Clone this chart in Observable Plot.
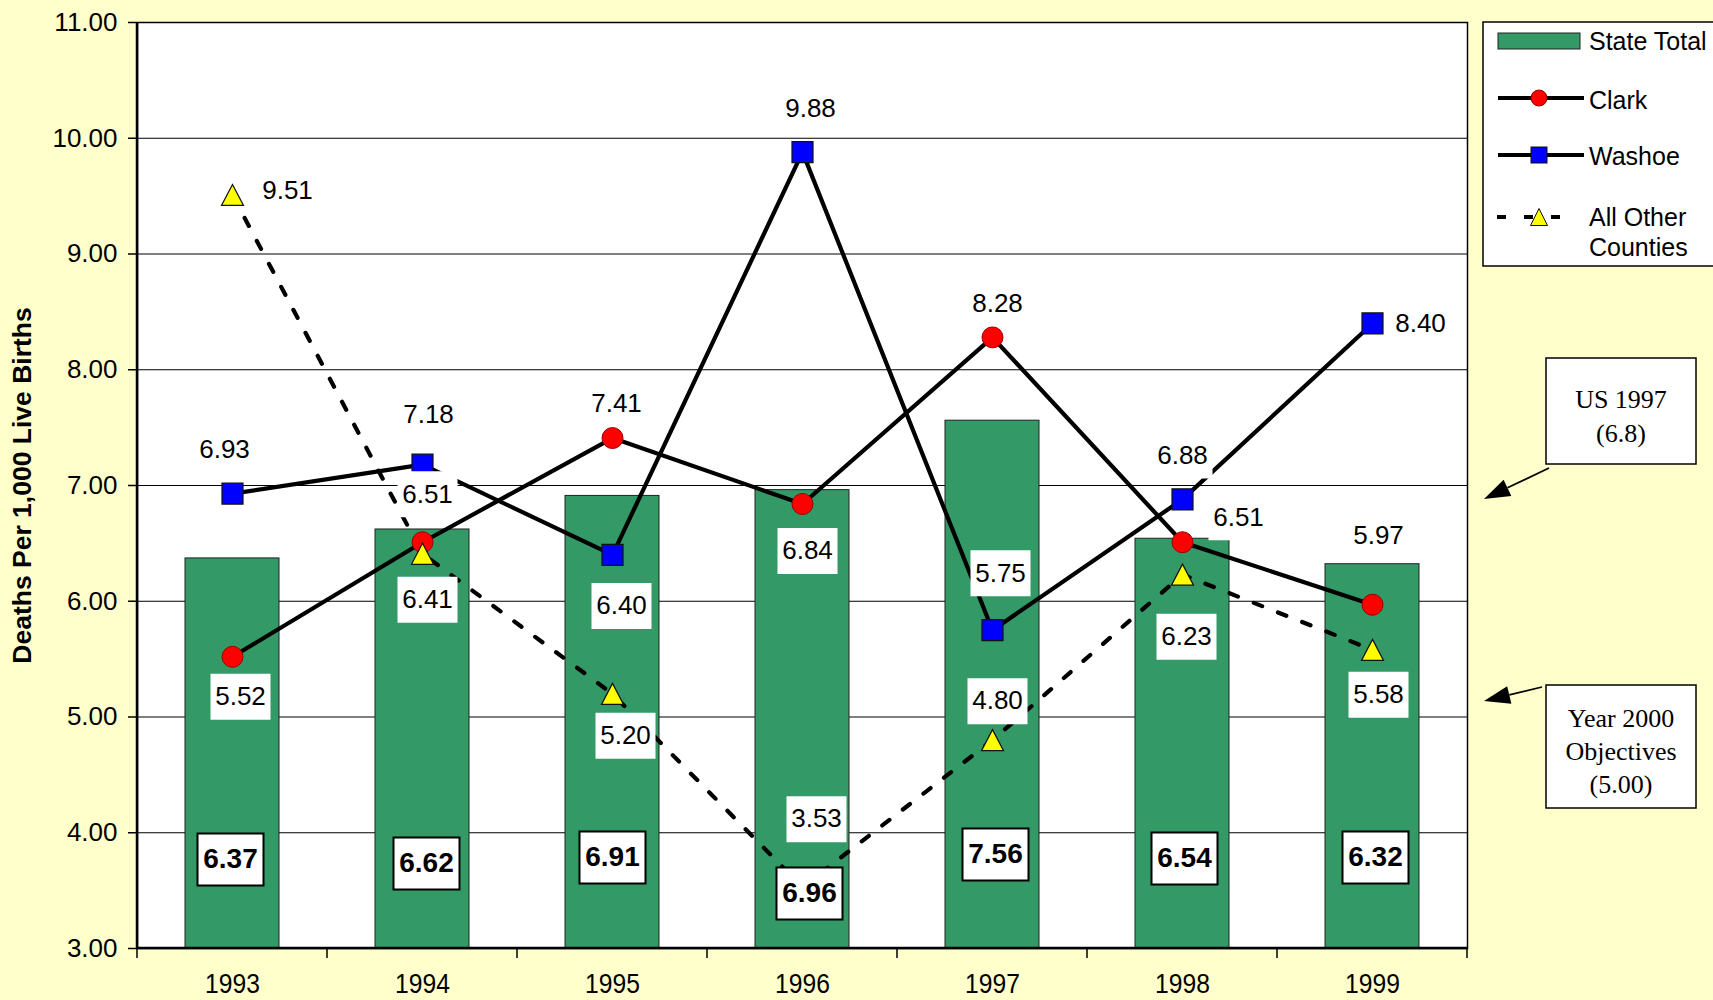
<!DOCTYPE html>
<html><head><meta charset="utf-8">
<script src="https://cdn.jsdelivr.net/npm/d3@7"></script>
<script src="https://cdn.jsdelivr.net/npm/@observablehq/plot@0.6"></script>
<style>
html,body{margin:0;padding:0;background:#ffffcc;overflow:hidden}
svg{display:block}
</style>
</head><body><div id="chart"></div>
<script>
// ---- data ----
const years = ["1993", "1994", "1995", "1996", "1997", "1998", "1999"];
const stateTotal = [6.37, 6.62, 6.91, 6.96, 7.56, 6.54, 6.32];
const clark = [5.52, 6.51, 7.41, 6.84, 8.28, 6.51, 5.97];
const washoe = [6.93, 7.18, 6.40, 9.88, 5.75, 6.88, 8.40];
const allOther = [9.51, 6.41, 5.20, 3.53, 4.80, 6.23, 5.58];
const yTicks = [3, 4, 5, 6, 7, 8, 9, 10, 11];
const seriesNames = ["State Total", "Clark", "Washoe", "All Other Counties"];
const yLabel = "Deaths Per 1,000 Live Births";
const usNote = ["US 1997", "(6.8)"];
const objNote = ["Year 2000", "Objectives", "(5.00)"];

// ---- label placement (pixel offsets from the point) ----
const washoeLabelDx = [-8, 6, 9, 8, 8, 0, 48];
const washoeLabelDy = [-44, -50, 51, -43, -57, -44, 0];
const clarkLabelDx = [8, 5, 4, 5, 5, 56, 6];
const clarkLabelDy = [40, -48, -34, 47, -34, -25, -69];
const otherLabelDx = [55, 5, 13, 14, 5, 4, 6];
const otherLabelDy = [-4, 46, 42, -68, -39, 62, 45];
const stateLabelDx = [-2, 4, 0, 7, 3, 2, 3];
const stateLabelDy = [-89, -85, -91, -55, -94, -90, -91];

const FONT = "Liberation Sans, Arial, sans-serif";
const SERIF = "Liberation Serif, Times New Roman, serif";
const GREEN = "#339966";

const rectSym = (w, h) => ({draw(ctx) { ctx.rect(-w / 2, -h / 2, w, h); }});
const triSym = (w, h) => ({draw(ctx) { ctx.moveTo(0, -h / 2); ctx.lineTo(w / 2, h / 2); ctx.lineTo(-w / 2, h / 2); ctx.closePath(); }});
const squareSym = rectSym(21, 21);
const triangleSym = triSym(22, 21);

const idx = years.map((_, i) => i);

function labelMarks(values, dxs, dys) {
  return idx.flatMap(i => [
    Plot.dot([i], {x: j => years[j], y: j => values[j], dx: dxs[i], dy: dys[i], symbol: rectSym(60, 46), fill: "white", stroke: "none", r: 5}),
    Plot.text([i], {x: j => years[j], y: j => values[j], text: j => values[j].toFixed(2), dx: dxs[i], dy: dys[i], fontSize: 26, fontFamily: FONT, fill: "black", lineAnchor: "middle"})
  ]);
}
function stateLabelMarks() {
  return idx.flatMap(i => [
    Plot.dot([i], {x: j => years[j], y: 3, dx: stateLabelDx[i], dy: stateLabelDy[i], symbol: rectSym(66, 52), fill: "white", stroke: "black", strokeWidth: 2, r: 5}),
    Plot.text([i], {x: j => years[j], y: 3, text: j => stateTotal[j].toFixed(2), dx: stateLabelDx[i], dy: stateLabelDy[i], fontSize: 28, fontWeight: "bold", fontFamily: FONT, fill: "black", lineAnchor: "middle"})
  ]);
}

// boundary ticks on the x axis (between categories) and heavier axis lines
function xBoundaryTicks(index, scales, values, dims) {
  const g = d3.create("svg:g");
  const left = dims.marginLeft, right = dims.width - dims.marginRight;
  const bottom = dims.height - dims.marginBottom;
  const step = (right - left) / years.length;
  for (let i = 0; i <= years.length; i++) {
    g.append("line").attr("x1", left + i * step).attr("x2", left + i * step)
      .attr("y1", bottom).attr("y2", bottom + 10).attr("stroke", "black").attr("stroke-width", 1.5);
  }
  g.append("line").attr("x1", left).attr("x2", right).attr("y1", bottom).attr("y2", bottom).attr("stroke", "black").attr("stroke-width", 2.5);
  g.append("line").attr("x1", left).attr("x2", left).attr("y1", dims.marginTop).attr("y2", bottom).attr("stroke", "black").attr("stroke-width", 2.5);
  return g.node();
}

const chart = Plot.plot({
  width: 1713,
  height: 1000,
  marginLeft: 137,
  marginRight: 246,
  marginTop: 22,
  marginBottom: 52,
  style: {background: "#ffffcc", fontFamily: FONT, fontSize: "25px", color: "black"},
  x: {type: "band", domain: years, padding: 0},
  y: {domain: [3, 11]},
  marks: [
    Plot.frame({fill: "white"}),
    Plot.ruleY(yTicks.filter(t => t > 3 && t < 11), {stroke: "black", strokeWidth: 1}),
    Plot.barY(idx, {x: i => years[i], y1: 3, y2: i => stateTotal[i], fill: GREEN, stroke: "#222", strokeWidth: 1, insetLeft: 48, insetRight: 48}),
    Plot.line(idx, {x: i => years[i], y: i => allOther[i], stroke: "black", strokeWidth: 4.2, strokeDasharray: "9,17"}),
    Plot.line(idx, {x: i => years[i], y: i => clark[i], stroke: "black", strokeWidth: 4.2}),
    Plot.line(idx, {x: i => years[i], y: i => washoe[i], stroke: "black", strokeWidth: 4.2}),
    Plot.dot(idx, {x: i => years[i], y: i => clark[i], r: 10.5, fill: "#ff0000", stroke: "#990000", strokeWidth: 1}),
    Plot.dot(idx, {x: i => years[i], y: i => washoe[i], symbol: squareSym, r: 5, fill: "#0000ff", stroke: "#111", strokeWidth: 1.2}),
    Plot.dot(idx, {x: i => years[i], y: i => allOther[i], symbol: triangleSym, r: 5, fill: "#ffff00", stroke: "#111", strokeWidth: 1.2}),
    ...labelMarks(washoe, washoeLabelDx, washoeLabelDy),
    ...labelMarks(clark, clarkLabelDx, clarkLabelDy),
    ...labelMarks(allOther, otherLabelDx, otherLabelDy),
    ...stateLabelMarks(),
    Plot.frame({stroke: "black", strokeWidth: 1.5}),
    xBoundaryTicks,
    Plot.axisY({ticks: yTicks, tickFormat: d => d.toFixed(2), tickSize: 9, tickPadding: 11, fontSize: 26, label: null, strokeWidth: 1.5}),
    Plot.axisX({tickSize: 0, tickPadding: 25, fontSize: 28, label: null}),
    Plot.text([yLabel], {frameAnchor: "left", dx: -115, rotate: -90, text: d => d, textAnchor: "middle", fontWeight: "bold", fontSize: 26.5, fontFamily: FONT, fill: "black"})
  ]
});

const svg = d3.select(chart);

// condensed year labels, as in the original (horizontal squeeze only)
svg.selectAll('g[aria-label="x-axis tick label"] text').each(function () {
  const xa = this.getAttribute("x");
  const x = xa !== null && !isNaN(+xa) ? +xa : 0;
  const t = this.getAttribute("transform") || "";
  if (xa !== null && !isNaN(+xa)) this.setAttribute("x", 0);
  this.setAttribute("transform", `${t} translate(${x},0) scale(0.88,1)`);
});

// ---- legend & annotations (static decoration) ----
const lg = svg.append("g").attr("font-family", FONT).attr("font-size", 25).attr("fill", "black").attr("text-anchor", "start");
lg.append("rect").attr("x", 1483).attr("y", 22).attr("width", 260).attr("height", 244).attr("fill", "white").attr("stroke", "black").attr("stroke-width", 1.5);
lg.append("rect").attr("x", 1498).attr("y", 33).attr("width", 82).attr("height", 16).attr("fill", GREEN).attr("stroke", "#222").attr("stroke-width", 1);
lg.append("text").attr("x", 1589).attr("y", 41).attr("dy", "0.35em").text(seriesNames[0]);
lg.append("line").attr("x1", 1498).attr("x2", 1584).attr("y1", 98).attr("y2", 98).attr("stroke", "black").attr("stroke-width", 4);
lg.append("circle").attr("cx", 1539).attr("cy", 98).attr("r", 8).attr("fill", "#ff0000").attr("stroke", "#990000");
lg.append("text").attr("x", 1589).attr("y", 100).attr("dy", "0.35em").text(seriesNames[1]);
lg.append("line").attr("x1", 1498).attr("x2", 1584).attr("y1", 155).attr("y2", 155).attr("stroke", "black").attr("stroke-width", 4);
lg.append("rect").attr("x", 1531).attr("y", 147).attr("width", 16).attr("height", 16).attr("fill", "#0000ff").attr("stroke", "#111");
lg.append("text").attr("x", 1589).attr("y", 156).attr("dy", "0.35em").text(seriesNames[2]);
lg.append("line").attr("x1", 1497).attr("x2", 1564).attr("y1", 217).attr("y2", 217).attr("stroke", "black").attr("stroke-width", 4).attr("stroke-dasharray", "9,18");
lg.append("path").attr("d", "M1539,208.5L1547.5,225.5L1530.5,225.5Z").attr("fill", "#ffff00").attr("stroke", "#111");
lg.append("text").attr("x", 1589).attr("y", 217).attr("dy", "0.35em").text("All Other");
lg.append("text").attr("x", 1589).attr("y", 247).attr("dy", "0.35em").text("Counties");

const an = svg.append("g").attr("font-family", SERIF).attr("font-size", 26).attr("fill", "black").attr("text-anchor", "middle");
an.append("rect").attr("x", 1546).attr("y", 358).attr("width", 150).attr("height", 106).attr("fill", "white").attr("stroke", "black").attr("stroke-width", 1.5);
usNote.forEach((t, i) => an.append("text").attr("x", 1621).attr("y", 399 + i * 34).attr("dy", "0.35em").text(t));
an.append("rect").attr("x", 1546).attr("y", 685).attr("width", 150).attr("height", 123).attr("fill", "white").attr("stroke", "black").attr("stroke-width", 1.5);
objNote.forEach((t, i) => an.append("text").attr("x", 1621).attr("y", 718 + i * 33).attr("dy", "0.35em").text(t));

function arrow(x1, y1, x2, y2) {
  const ang = Math.atan2(y2 - y1, x2 - x1);
  const L = 26, W = 9;
  const bx = x2 - L * Math.cos(ang), by = y2 - L * Math.sin(ang);
  svg.append("line").attr("x1", x1).attr("y1", y1).attr("x2", bx).attr("y2", by).attr("stroke", "black").attr("stroke-width", 1.8);
  const px = -Math.sin(ang) * W, py = Math.cos(ang) * W;
  svg.append("path").attr("d", `M${x2},${y2}L${bx + px},${by + py}L${bx - px},${by - py}Z`).attr("fill", "black");
}
arrow(1549, 468, 1484, 499);
arrow(1542, 687, 1484, 701);

document.getElementById("chart").appendChild(chart);
</script>
</body></html>
